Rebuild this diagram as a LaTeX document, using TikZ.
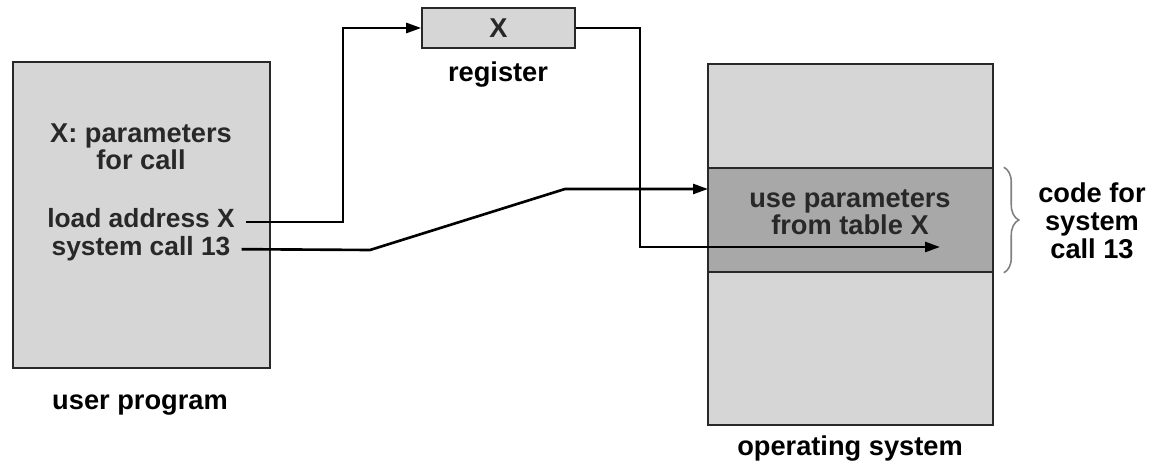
\documentclass[tikz,border=0pt]{standalone}
\usepackage{fontspec}
\setmainfont{Liberation Sans}
\usetikzlibrary{arrows.meta,positioning,decorations.pathreplacing}
\definecolor{memgray}{RGB}{214,214,214}
\definecolor{codegray}{RGB}{168,168,168}
\definecolor{inkgray}{RGB}{40,40,40}

\begin{document}
\begin{tikzpicture}[x=0.02cm,y=-0.02cm,
    font=\fontsize{15.5}{15.5}\selectfont\bfseries,
    membox/.style={draw=inkgray, line width=0.9pt, fill=memgray, inner sep=0pt},
    codetxt/.style={inner xsep=0.22cm, inner ysep=0pt, text=inkgray, align=center},
    link/.style={line width=1.5pt, -{Triangle[length=0.3cm,width=0.2cm]}}]
    \useasboundingbox (0,0) rectangle (1151,465);

    % memory boxes
    \node[membox, minimum width=5.14cm, minimum height=6.12cm] (user) at (141.5,215) {};
    \node[membox, minimum width=3.06cm, minimum height=0.8cm] (reg) at (498.5,28) {};
    \node[membox, minimum width=5.7cm, minimum height=7.22cm] (os) at (850.5,244.5) {};
    \node[membox, fill=codegray, minimum width=5.7cm, minimum height=2.08cm] (band) at (850.5,220) {};

    % texts
    \node[codetxt] (params) at (141,147) {X: parameters\\for call};
    \node[codetxt, anchor=base, font=\fontsize{15}{15}\selectfont\bfseries] (lda) at (141,228) {load address X};
    \node[codetxt, anchor=base, font=\fontsize{15}{15}\selectfont\bfseries] (sys) at (141,256) {system call 13};
    \node[codetxt] (regx) at (498.5,28) {X};
    \node[codetxt] (use) at (850,212) {use parameters\\from table X};
    \node (reglab) at (498,75) {register};
    \node (userlab) at (140,405) {user program};
    \node (oslab) at (850,449) {operating system};
    \node[align=center, font=\fontsize{15.5}{16}\selectfont\bfseries] (codelab) at (1092,221) {code for\\system\\call 13};

    % connectors
    \coordinate (up) at (343,28);
    \coordinate (down) at (640,247);
    \coordinate (tip) at (940,247);
    \coordinate (bendA) at (370,250);
    \coordinate (bendB) at (565,189);
    \coordinate (entry) at (708,189);
    \draw[link] ([yshift=0.12cm]lda.base east) -| (up) -- (reg.west);
    \draw[link] (sys.east) -- (bendA) -- (bendB) -- (entry);
    \draw[link] (reg.east) -| (down) -- (tip);

    % brace
    \draw[gray, line width=0.9pt, decorate, decoration={brace, amplitude=0.3cm}]
        ([xshift=0.2cm]band.north east) -- ([xshift=0.2cm]band.south east);
\end{tikzpicture}
\end{document}
